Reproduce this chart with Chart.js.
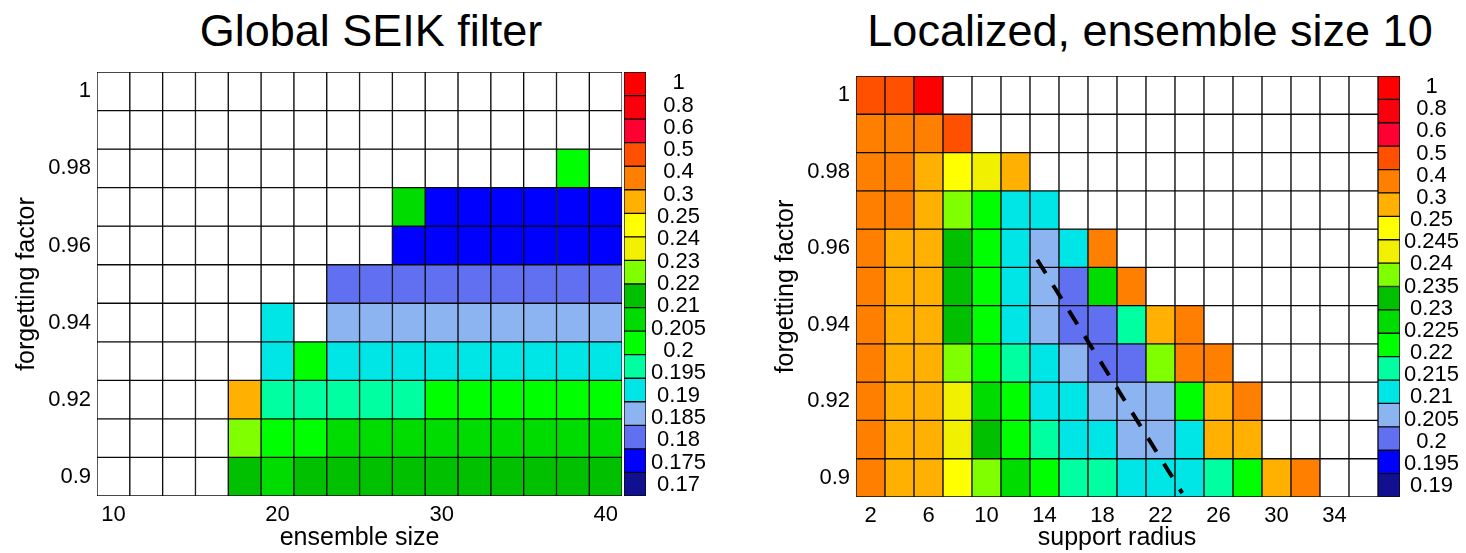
<!DOCTYPE html>
<html>
<head>
<meta charset="utf-8">
<script src="https://cdn.jsdelivr.net/npm/chart.js@4.4.1/dist/chart.umd.min.js"></script>
<style>
    html, body { margin: 0; padding: 0; background: #fff; }
    #page { position: relative; width: 1466px; height: 553px; overflow: hidden; font-family: "Liberation Sans", Arial, sans-serif; }
    .title { position: absolute; top: 6px; width: 600px; font-size: 45px; line-height: 50px; color: #000; text-align: center; white-space: nowrap; }
    .box { position: absolute; top: 0; height: 553px; }
</style>
</head>
<body>
<div id="page">
    <div class="title" style="left:71px">Global SEIK filter</div>
    <div class="title" style="left:850px">Localized, ensemble size 10</div>
    <div class="box" style="left:0;width:624px"><canvas id="global"></canvas></div>
    <div class="box" style="left:624px;width:100px"><canvas id="globalBar"></canvas></div>
    <div class="box" style="left:760px;width:619px"><canvas id="local"></canvas></div>
    <div class="box" style="left:1378px;width:88px"><canvas id="localBar"></canvas></div>
</div>
<script>
// axes
const ensembleSizes = [10, 12, 14, 16, 18, 20, 22, 24, 26, 28, 30, 32, 34, 36, 38, 40];
const supportRadii = [2, 4, 6, 8, 10, 12, 14, 16, 18, 20, 22, 24, 26, 28, 30, 32, 34, 36];
const forgettingFactors = [1, 0.99, 0.98, 0.97, 0.96, 0.95, 0.94, 0.93, 0.92, 0.91, 0.9];
const factorTicks = [0.9, 0.92, 0.94, 0.96, 0.98, 1];
const ensembleTicks = [10, 20, 30, 40];
const radiusTicks = [2, 6, 10, 14, 18, 22, 26, 30, 34];

// colour bar levels (top to bottom) and their colours
const globalLevels = [1, 0.8, 0.6, 0.5, 0.4, 0.3, 0.25, 0.24, 0.23, 0.22, 0.21, 0.205, 0.2, 0.195, 0.19, 0.185, 0.18, 0.175, 0.17];
const localLevels = [1, 0.8, 0.6, 0.5, 0.4, 0.3, 0.25, 0.245, 0.24, 0.235, 0.23, 0.225, 0.22, 0.215, 0.21, 0.205, 0.2, 0.195, 0.19];
const levelColors = ['#ff0000', '#f8000c', '#ff0032', '#ff5000', '#ff8000', '#ffb000', '#ffff00', '#f0f000',
    '#80ff00', '#00c000', '#00dc00', '#00ff00', '#00ffa0', '#00e6e6', '#8cb4f0', '#6070f0', '#0000ff', '#101090'];

// mean RMS error, rows = forgetting factor (1 at top), null = filter diverged
const globalRmse = [
    [null, null, null, null, null, null, null, null, null, null, null, null, null, null, null, null],
    [null, null, null, null, null, null, null, null, null, null, null, null, null, null, null, null],
    [null, null, null, null, null, null, null, null, null, null, null, null, null, null, 0.202, null],
    [null, null, null, null, null, null, null, null, null, 0.207, 0.178, 0.177, 0.177, 0.176, 0.177, 0.176],
    [null, null, null, null, null, null, null, null, null, 0.178, 0.177, 0.177, 0.176, 0.177, 0.176, 0.176],
    [null, null, null, null, null, null, null, 0.183, 0.182, 0.182, 0.181, 0.182, 0.181, 0.181, 0.182, 0.181],
    [null, null, null, null, null, 0.193, null, 0.187, 0.187, 0.186, 0.187, 0.186, 0.186, 0.187, 0.186, 0.186],
    [null, null, null, null, null, 0.193, 0.203, 0.192, 0.192, 0.191, 0.192, 0.191, 0.191, 0.192, 0.191, 0.191],
    [null, null, null, null, 0.27, 0.198, 0.197, 0.197, 0.196, 0.197, 0.202, 0.201, 0.202, 0.201, 0.201, 0.202],
    [null, null, null, null, 0.226, 0.203, 0.202, 0.207, 0.207, 0.206, 0.207, 0.206, 0.206, 0.207, 0.206, 0.206],
    [null, null, null, null, 0.216, 0.208, 0.214, 0.214, 0.213, 0.214, 0.213, 0.213, 0.214, 0.213, 0.213, 0.214]
];

const localRmse = [
    [0.45, 0.44, 0.85, null, null, null, null, null, null, null, null, null, null, null, null, null, null, null],
    [0.36, 0.35, 0.34, 0.42, null, null, null, null, null, null, null, null, null, null, null, null, null, null],
    [0.34, 0.32, 0.28, 0.247, 0.242, 0.27, null, null, null, null, null, null, null, null, null, null, null, null],
    [0.33, 0.31, 0.27, 0.237, 0.222, 0.212, 0.213, null, null, null, null, null, null, null, null, null, null, null],
    [0.32, 0.29, 0.27, 0.232, 0.222, 0.212, 0.207, 0.213, 0.33, null, null, null, null, null, null, null, null, null],
    [0.32, 0.28, 0.27, 0.232, 0.221, 0.211, 0.207, 0.202, 0.227, 0.34, null, null, null, null, null, null, null, null],
    [0.31, 0.28, 0.26, 0.232, 0.221, 0.211, 0.206, 0.202, 0.203, 0.217, 0.28, 0.33, null, null, null, null, null, null],
    [0.31, 0.28, 0.26, 0.237, 0.221, 0.217, 0.211, 0.206, 0.202, 0.202, 0.237, 0.32, 0.34, null, null, null, null, null],
    [0.31, 0.27, 0.26, 0.242, 0.227, 0.222, 0.211, 0.211, 0.206, 0.206, 0.207, 0.222, 0.28, 0.33, null, null, null, null],
    [0.31, 0.27, 0.26, 0.242, 0.232, 0.222, 0.217, 0.212, 0.211, 0.207, 0.207, 0.212, 0.27, 0.29, null, null, null, null],
    [0.31, 0.27, 0.26, 0.247, 0.237, 0.227, 0.222, 0.217, 0.216, 0.212, 0.211, 0.212, 0.217, 0.222, 0.27, 0.32, null, null]
];

// dashed line through the error minimum
const optimalRadius = [13.5, 23.5];
const optimalFactor = [0.957, 0.896];

Chart.defaults.font.family = '"Liberation Sans", Arial, sans-serif';
Chart.defaults.color = '#000';

function colorFor(v, levels) {
    if (v === null) return '#ffffff';
    for (let k = 0; k < levels.length - 1; k++) {
        if (v <= levels[k] && v > levels[k + 1]) return levelColors[k];
    }
    return v > levels[0] ? levelColors[0] : levelColors[levelColors.length - 1];
}

function heatmap(id, xs, grid, levels, xTicks, xTitle, opts) {
    const half = (forgettingFactors[0] - forgettingFactors[1]) / 2;
    const step = xs[1] - xs[0];

    // one floating-bar dataset per row of the grid
    const datasets = forgettingFactors.map((f, r) => ({
        type: 'bar',
        data: xs.map(x => ({ x: x, y: [f - half, f + half] })),
        backgroundColor: grid[r].map(v => colorFor(v, levels)),
        borderColor: '#0a0a0a',
        borderWidth: 1,
        borderSkipped: false,
        grouped: false,
        barPercentage: 1,
        categoryPercentage: 1,
        order: 1
    }));

    if (opts.line) {
        datasets.push({
            type: 'line',
            data: opts.line.x.map((x, i) => ({ x: x, y: opts.line.y[i] })),
            borderColor: '#000',
            borderWidth: 4,
            borderDash: [16, 14],
            pointRadius: 0,
            fill: false,
            order: 0
        });
    }

    return new Chart(document.getElementById(id), {
        type: 'bar',
        data: { datasets: datasets },
        options: {
            responsive: true,
            maintainAspectRatio: false,
            animation: false,
            layout: { padding: { top: opts.top, right: 1, left: 0, bottom: 0 } },
            plugins: { legend: { display: false }, tooltip: { enabled: false } },
            scales: {
                x: {
                    type: 'linear',
                    offset: false,
                    min: xs[0] - step / 2,
                    max: xs[xs.length - 1] + step / 2,
                    afterBuildTicks: s => { s.ticks = xTicks.map(v => ({ value: v })); },
                    afterFit: s => { s.height = opts.xHeight; },
                    grid: { display: false, drawTicks: false },
                    border: { display: false },
                    ticks: { font: { size: 22 }, padding: 6, maxRotation: 0, autoSkip: false, callback: v => String(v) },
                    title: { display: true, text: xTitle, font: { size: 25 }, padding: { top: 0, bottom: 0 } }
                },
                y: {
                    type: 'linear',
                    min: forgettingFactors[forgettingFactors.length - 1] - half,
                    max: forgettingFactors[0] + half,
                    afterBuildTicks: s => { s.ticks = factorTicks.map(v => ({ value: v })); },
                    afterFit: s => { s.width = opts.yWidth; },
                    grid: { display: false, drawTicks: false },
                    border: { display: false },
                    ticks: { font: { size: 22 }, padding: 6, autoSkip: false, callback: v => String(v) },
                    title: { display: true, text: 'forgetting factor', font: { size: 25 }, padding: { top: opts.titlePad, bottom: 0 } }
                }
            }
        }
    });
}

function colorbar(id, levels, heat, labelPad) {
    const area = heat.chartArea;
    const bins = levelColors.map((c, i) => String(i));
    const barWidth = 22;
    const canvas = document.getElementById(id);
    const boxWidth = canvas.parentNode.clientWidth;

    return new Chart(canvas, {
        type: 'bar',
        data: {
            labels: bins,
            datasets: [{
                data: bins.map(() => [0, 1]),
                backgroundColor: levelColors,
                borderColor: '#0a0a0a',
                borderWidth: 1,
                borderSkipped: false,
                barPercentage: 1,
                categoryPercentage: 1
            }]
        },
        options: {
            indexAxis: 'y',
            responsive: true,
            maintainAspectRatio: false,
            animation: false,
            layout: { padding: { top: area.top, bottom: heat.height - area.bottom, left: 0, right: 0 } },
            plugins: { legend: { display: false }, tooltip: { enabled: false } },
            scales: {
                y: { type: 'category', display: false },
                x: { type: 'linear', min: 0, max: 1, display: false },
                lv: {
                    type: 'linear',
                    position: 'right',
                    min: 0,
                    max: levels.length - 1,
                    afterBuildTicks: s => { s.ticks = levels.map((l, i) => ({ value: i })); },
                    afterFit: s => { s.width = boxWidth - barWidth; },
                    grid: { display: false, drawTicks: false },
                    border: { display: false },
                    ticks: {
                        font: { size: 22 },
                        padding: labelPad,
                        crossAlign: 'center',
                        autoSkip: false,
                        callback: v => String(levels[levels.length - 1 - v])
                    }
                }
            }
        }
    });
}

const globalChart = heatmap('global', ensembleSizes, globalRmse, globalLevels, ensembleTicks, 'ensemble size',
    { top: 72, xHeight: 57, yWidth: 97, titlePad: 12 });
colorbar('globalBar', globalLevels, globalChart, 5);

const localChart = heatmap('local', supportRadii, localRmse, localLevels, radiusTicks, 'support radius',
    { top: 76, xHeight: 56, yWidth: 96, titlePad: 11, line: { x: optimalRadius, y: optimalFactor } });
colorbar('localBar', localLevels, localChart, 4);
</script>
</body>
</html>
